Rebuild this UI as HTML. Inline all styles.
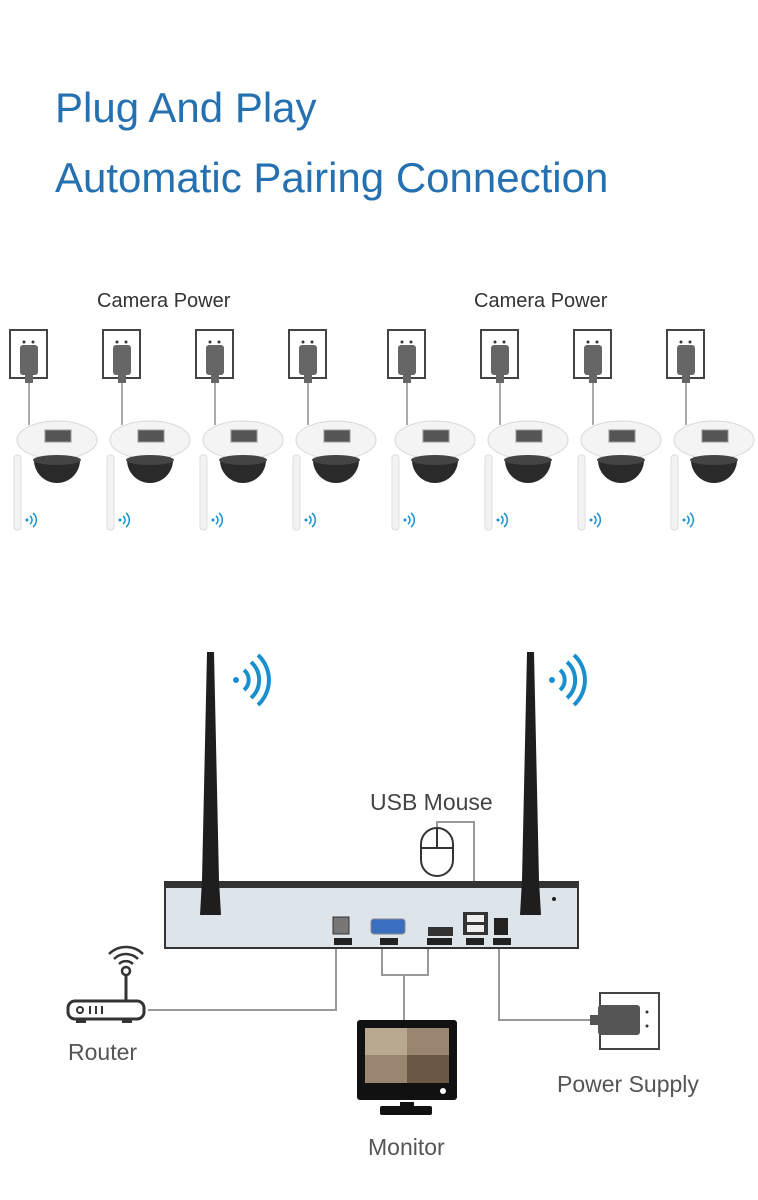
<!DOCTYPE html>
<html><head><meta charset="utf-8"><style>
html,body{margin:0;padding:0;background:#fff;}
svg{display:block;}
</style></head><body>
<svg width="758" height="1200" viewBox="0 0 758 1200" xmlns="http://www.w3.org/2000/svg" font-family="Liberation Sans, sans-serif">
<defs>
<g id="cam">
  <rect x="10" y="330" width="37" height="48" fill="none" stroke="#444" stroke-width="2"/>
  <circle cx="24" cy="342" r="1.5" fill="#333"/><circle cx="33" cy="342" r="1.5" fill="#333"/>
  <rect x="20" y="345" width="18" height="30" rx="3" fill="#666"/>
  <rect x="25" y="375" width="8" height="8" fill="#666"/>
  <line x1="29" y1="383" x2="29" y2="425" stroke="#aaa" stroke-width="2"/>
  <rect x="14" y="455" width="7" height="75" rx="3" fill="#f2f2f2" stroke="#ddd"/>
  <ellipse cx="57" cy="440" rx="40" ry="19" fill="#f4f4f4" stroke="#d8d8d8"/>
  <rect x="45" y="430" width="26" height="12" fill="#555" stroke="#999"/>
  <path d="M34 460 A23 23 0 0 0 80 460 Z" fill="#2a2a2a"/>
  <ellipse cx="57" cy="460" rx="24" ry="5" fill="#444"/>
  <circle cx="27" cy="520" r="1.5" fill="#1a8fd0"/>
  <path d="M30 516 a5 5 0 0 1 0 8 M33 513 a9 9 0 0 1 0 14" fill="none" stroke="#1a8fd0" stroke-width="1.5"/>
</g>
<g id="wifi">
  <circle cx="0" cy="0" r="3" fill="#1a8fd0"/>
  <path d="M8 -10 a13 13 0 0 1 0 20 M15 -18 a24 24 0 0 1 0 36 M22 -25 a34 34 0 0 1 0 50" fill="none" stroke="#1a8fd0" stroke-width="4"/>
</g>
</defs>
<text x="55" y="122" font-size="42" fill="#2470b0">Plug And Play</text>
<text x="55" y="192" font-size="42" fill="#2470b0">Automatic Pairing Connection</text>
<text x="97" y="307" font-size="20" fill="#333">Camera Power</text>
<text x="474" y="307" font-size="20" fill="#333">Camera Power</text>
<use href="#cam" x="0"/><use href="#cam" x="93"/><use href="#cam" x="186"/><use href="#cam" x="279"/>
<use href="#cam" x="378"/><use href="#cam" x="471"/><use href="#cam" x="564"/><use href="#cam" x="657"/>

<use href="#wifi" x="236" y="680"/><use href="#wifi" x="552" y="680"/>
<g fill="none" stroke="#999" stroke-width="2">
<path d="M336 948 V1010 H148"/>
<path d="M382 948 V975 H428 V948 M404 975 V1020"/>
<path d="M499 948 V1020 H592"/>
<path d="M437 828 V822 H474 V912"/>
</g>
<rect x="165" y="882" width="413" height="66" fill="#dde4ea" stroke="#333" stroke-width="2"/>
<rect x="165" y="882" width="413" height="6" fill="#333"/>
<rect x="333" y="917" width="16" height="17" fill="#777" stroke="#333"/>
<rect x="334" y="938" width="18" height="7" fill="#222"/>
<rect x="371" y="919" width="34" height="15" rx="3" fill="#3a6fc0" stroke="#888"/>
<rect x="380" y="938" width="18" height="7" fill="#222"/>
<rect x="428" y="927" width="25" height="9" fill="#333"/>
<rect x="427" y="938" width="25" height="7" fill="#222"/>
<rect x="463" y="912" width="25" height="23" fill="#333"/><rect x="467" y="915" width="17" height="7" fill="#eee"/><rect x="467" y="925" width="17" height="7" fill="#eee"/>
<rect x="466" y="938" width="18" height="7" fill="#222"/>
<rect x="494" y="918" width="14" height="17" fill="#222"/>
<rect x="493" y="938" width="18" height="7" fill="#222"/>
<circle cx="554" cy="899" r="2" fill="#222"/>
<path d="M207 652 L214 652 L219 880 L221 915 L200 915 L202 880 Z" fill="#1e1e1e"/>
<path d="M527 652 L534 652 L539 880 L541 915 L520 915 L522 880 Z" fill="#1e1e1e"/>
<rect x="421" y="828" width="32" height="48" rx="16" fill="#fff" stroke="#333" stroke-width="2"/>
<line x1="437" y1="828" x2="437" y2="848" stroke="#333" stroke-width="2"/><line x1="421" y1="848" x2="453" y2="848" stroke="#333" stroke-width="2"/>
<text x="370" y="810" font-size="23" fill="#444">USB Mouse</text>
<rect x="68" y="1001" width="76" height="18" rx="7" fill="#fff" stroke="#333" stroke-width="3"/>
<circle cx="80" cy="1010" r="3" fill="none" stroke="#333" stroke-width="2"/>
<path d="M90 1006v8M96 1006v8M102 1006v8" stroke="#333" stroke-width="2"/>
<rect x="76" y="1019" width="10" height="4" fill="#333"/><rect x="122" y="1019" width="10" height="4" fill="#333"/>
<line x1="126" y1="1001" x2="126" y2="975" stroke="#333" stroke-width="3"/>
<circle cx="126" cy="971" r="4" fill="none" stroke="#333" stroke-width="2.5"/>
<path d="M119 964 a10 10 0 0 1 14 0 M114 959 a17 17 0 0 1 24 0 M109 954 a24 24 0 0 1 34 0" fill="none" stroke="#333" stroke-width="2.5"/>
<text x="68" y="1060" font-size="23" fill="#555">Router</text>
<rect x="357" y="1020" width="100" height="80" rx="3" fill="#111"/>
<rect x="365" y="1028" width="84" height="55" fill="#9a8670"/>
<rect x="365" y="1028" width="42" height="27" fill="#b8a890"/><rect x="407" y="1055" width="42" height="28" fill="#6b5844"/>
<circle cx="443" cy="1091" r="3" fill="#fff"/>
<rect x="400" y="1102" width="14" height="6" fill="#111"/>
<rect x="380" y="1106" width="52" height="9" rx="2" fill="#111"/>
<text x="368" y="1155" font-size="23" fill="#555">Monitor</text>
<rect x="600" y="993" width="59" height="56" fill="none" stroke="#444" stroke-width="2"/>
<circle cx="647" cy="1012" r="1.5" fill="#333"/><circle cx="647" cy="1026" r="1.5" fill="#333"/>
<rect x="590" y="1015" width="10" height="10" fill="#555"/>
<rect x="598" y="1005" width="42" height="30" rx="3" fill="#555"/>
<text x="557" y="1092" font-size="23" fill="#555">Power Supply</text>
</svg>
</body></html>
